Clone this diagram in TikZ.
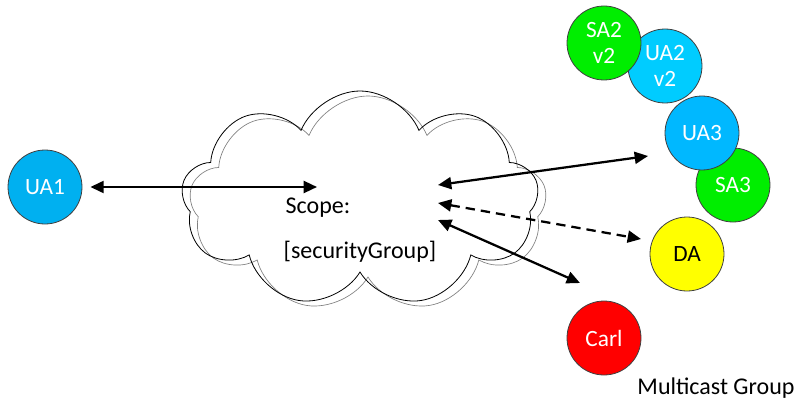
\documentclass[tikz,border=0pt]{standalone}
\usepackage{fontspec}
\setmainfont{Carlito}
\usetikzlibrary{shapes.symbols,arrows.meta,positioning}

\definecolor{uaone}{HTML}{00B0F0}
\definecolor{uatwo}{HTML}{00CCFF}
\definecolor{uathree}{HTML}{00B8FF}
\definecolor{sagreen}{HTML}{00EE00}
\definecolor{dayellow}{HTML}{FFFF00}
\definecolor{carlred}{HTML}{FF0000}

\begin{document}
\begin{tikzpicture}[x=0.75pt,y=-0.75pt,
    agent/.style={circle,draw=black!75,line width=0.6pt,minimum size=55.5pt,inner sep=0pt,text=white,align=center,font=\fontsize{17.5}{19}\selectfont},
    link/.style={{Triangle[length=10pt,width=9pt]}-{Triangle[length=10pt,width=9pt]},line width=1.7pt},
    puff/.style={cloud,cloud puffs=9,cloud puff arc=135,aspect=1.6,minimum width=268pt,minimum height=162pt,inner sep=0pt},
    label/.style={font=\fontsize{18}{20}\selectfont}]
  \useasboundingbox (0,0) rectangle (803,410);
  % the scope cloud, drawn twice
  \node[puff,draw=gray,line width=0.5pt] (shade) at (368,204) {};
  \node[puff,draw=black,line width=0.6pt] (sky) at (360,199) {};
  \node[label,anchor=west] (scope) at (281,208) {Scope:};
  \node[label,anchor=west] (group) at (279,252) {[securityGroup]};

  % agents
  \node[agent,fill=uaone] (ua1) at (45,187) {UA1};
  \node[agent,fill=uatwo] (ua2) at (665,66) {UA2\\v2};
  \node[agent,fill=sagreen] (sa2) at (604,43) {SA2\\v2};
  \node[agent,fill=sagreen] (sa3) at (733,185) {SA3};
  \node[agent,fill=uathree] (ua3) at (702,133) {UA3};
  \node[agent,fill=dayellow,text=black] (da) at (687,254) {DA};
  \node[agent,fill=carlred] (carl) at (604,338) {Carl};
  \node[label] (mcast) at (716,388) {Multicast Group};

  % arrow ends
  \coordinate (hub1) at (317,187);
  \coordinate (hub2) at (438,185);
  \coordinate (hub3) at (438,203);
  \coordinate (hub4) at (438,220);
  \coordinate (end2) at (648,156);
  \coordinate (end3) at (641,239);
  \coordinate (end4) at (580,283);

  \draw[link] ([xshift=6pt]ua1.east) -- (hub1);
  \draw[link] (hub2) -- (end2);
  \draw[link,dash pattern=on 7pt off 4.5pt] (hub3) -- (end3);
  \draw[link] (hub4) -- (end4);
\end{tikzpicture}
\end{document}
